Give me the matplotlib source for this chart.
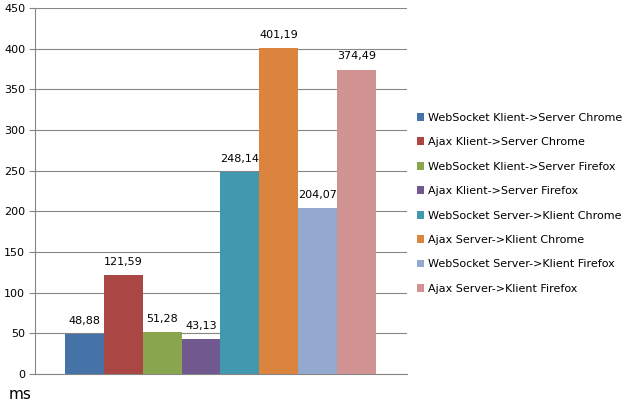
import matplotlib.pyplot as plt
from matplotlib.patches import Patch

series = ["WebSocket Klient->Server Chrome", "Ajax Klient->Server Chrome",
          "WebSocket Klient->Server Firefox", "Ajax Klient->Server Firefox",
          "WebSocket Server->Klient Chrome", "Ajax Server->Klient Chrome",
          "WebSocket Server->Klient Firefox", "Ajax Server->Klient Firefox"]
values = [48.88, 121.59, 51.28, 43.13, 248.14, 401.19, 204.07, 374.49]
colors = ["#4572A7", "#AA4643", "#89A54E", "#71588F",
          "#4198AF", "#DB843D", "#93A9CF", "#D19392"]
yticks = [0, 50, 100, 150, 200, 250, 300, 350, 400, 450]

fig = plt.figure(figsize=(6.32, 4.09), dpi=100)
ax = fig.add_axes([0.0554, 0.0856, 0.5886, 0.8944])

xs = list(range(len(values)))
ax.bar(xs, values, width=1.0, color=colors, zorder=3)
for x, v in zip(xs, values):
    ax.annotate(("%.2f" % v).replace(".", ","), (x, v), xytext=(0, 6),
                textcoords="offset points", ha="center", va="bottom", fontsize=8)

ax.set_xlim(-1.27, 8.3)
ax.set_ylim(0, 450)
ax.set_yticks(yticks)
ax.set_xticks([])
ax.tick_params(axis="y", labelsize=8, length=4, color="#868686", pad=3)
ax.grid(axis="y", color="#868686", linewidth=0.8, zorder=0)
for s in ["top", "right"]:
    ax.spines[s].set_visible(False)
for s in ["left", "bottom"]:
    ax.spines[s].set_color("#868686")
    ax.spines[s].set_linewidth(0.8)

fig.text(0.013, 0.035, "ms", fontsize=11, ha="left", va="center")

handles = [Patch(facecolor=c) for c in colors]
fig.legend(handles, series, loc="upper left", bbox_to_anchor=(0.652, 0.735),
           frameon=False, fontsize=8, handlelength=0.7, handleheight=0.7,
           handletextpad=0.3, labelspacing=1.3, borderaxespad=0)

fig.savefig("out.png", dpi=100)
